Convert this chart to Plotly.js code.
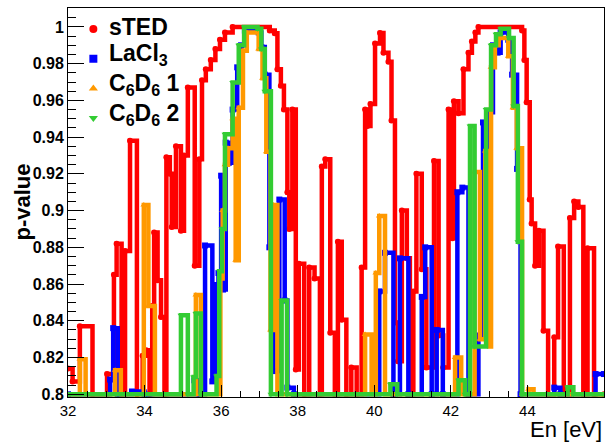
<!DOCTYPE html>
<html>
<head>
<meta charset="utf-8">
<script src="https://cdn.plot.ly/plotly-3.0.1.min.js"></script>
<style>html,body{margin:0;padding:0;background:#fff;}#chart{width:612px;height:442px;}</style>
</head>
<body>
<div id="chart"></div>
<script>
// Series names (legend labels)
var seriesNames = ['<b>sTED</b>', '<b>LaCl<sub>3</sub></b>', '<b>C<sub>6</sub>D<sub>6</sub> 1</b>', '<b>C<sub>6</sub>D<sub>6</sub> 2</b>'];

// sTED (red)
var stedE = [32.00,32.12,32.31,32.64,33.02,33.20,33.27,33.40,33.49,33.62,33.80,33.95,34.04,34.13,34.20,34.25,34.34,34.43,34.52,34.57,34.66,34.71,34.82,34.95,35.03,35.13,35.31,35.43,35.50,35.60,35.73,35.85,35.97,36.10,36.30,37.27,37.40,37.47,37.56,37.64,37.73,37.78,37.86,37.95,38.03,38.17,38.30,38.44,38.58,38.63,38.72,38.85,38.97,39.05,39.15,39.27,39.40,39.54,39.67,39.76,39.82,39.90,40.02,40.15,40.24,40.37,40.45,40.54,40.62,40.72,40.85,40.93,41.02,41.10,41.24,41.36,41.56,41.68,41.80,41.94,42.04,42.08,42.20,42.33,42.46,42.55,42.64,42.72,43.86,43.92,43.98,44.06,44.11,44.20,44.30,44.42,44.54,44.70,44.80,44.95,45.11,45.22,45.33,45.46,45.57,45.74,46.00];
var stedP = [0.814,0.807,0.837,0.800,0.811,0.865,0.882,0.800,0.878,0.938,0.800,0.821,0.824,0.800,0.848,0.888,0.862,0.842,0.800,0.929,0.920,0.891,0.935,0.889,0.930,0.967,0.870,0.928,0.971,0.977,0.982,0.988,0.993,0.997,1.000,0.998,0.9965,0.977,0.968,0.955,0.910,0.890,0.955,0.8135,0.871,0.800,0.869,0.863,0.800,0.924,0.928,0.8335,0.800,0.883,0.8405,0.800,0.8146,0.800,0.869,0.955,0.946,0.958,0.991,0.9967,0.986,0.981,0.949,0.839,0.818,0.900,0.874,0.800,0.856,0.920,0.868,0.8146,0.927,0.832,0.8146,0.955,0.885,0.9595,0.953,0.977,0.986,0.992,0.997,1.000,0.998,0.982,0.959,0.906,0.893,0.870,0.889,0.8346,0.800,0.831,0.8805,0.800,0.896,0.905,0.902,0.800,0.8795,0.800,0.800];

// LaCl3 (blue)
var laclE = [32.00,33.10,33.18,33.30,33.67,34.00,35.30,35.43,35.58,35.77,35.86,35.93,36.00,36.05,36.12,36.20,36.30,36.42,36.52,36.62,36.98,37.05,37.14,37.26,37.37,37.52,37.66,37.73,37.90,40.13,40.28,40.50,40.67,40.89,41.24,41.33,41.50,41.63,41.79,42.17,42.30,42.46,42.72,42.84,42.95,43.02,43.10,43.22,43.30,43.50,43.60,43.73,43.82,44.70,44.86,45.78,46.00];
var laclP = [0.800,0.808,0.836,0.800,0.8015,0.800,0.8076,0.800,0.881,0.807,0.8595,0.866,0.919,0.857,0.937,0.926,0.955,0.978,0.990,0.998,0.997,0.989,0.974,0.880,0.8126,0.906,0.851,0.8036,0.800,0.856,0.877,0.800,0.874,0.800,0.853,0.880,0.800,0.835,0.800,0.910,0.9125,0.800,0.832,0.948,0.892,0.9535,0.990,0.986,0.997,0.993,0.974,0.9227,0.800,0.8036,0.800,0.811,0.811];

// C6D6 1 (orange)
var c6d61E = [32.00,32.31,32.46,33.23,33.38,33.98,34.10,34.27,35.34,35.47,35.98,36.04,36.10,36.18,36.30,36.38,36.46,36.57,36.67,36.98,37.08,37.18,37.29,37.36,37.47,39.76,39.93,40.04,40.13,40.28,42.11,42.27,42.62,42.76,42.90,43.00,43.05,43.15,43.25,43.50,43.62,43.72,43.86,44.03,44.16,46.00];
var c6d61P = [0.800,0.819,0.800,0.813,0.800,0.903,0.848,0.800,0.854,0.800,0.863,0.900,0.925,0.934,0.950,0.873,0.956,0.987,0.997,0.988,0.972,0.932,0.835,0.903,0.800,0.8325,0.800,0.866,0.897,0.800,0.820,0.800,0.921,0.830,0.9325,0.826,0.978,0.990,0.994,0.984,0.956,0.934,0.800,0.8027,0.800,0.800];

// C6D6 2 (green)
var c6d62E = [32.00,34.95,35.13,35.28,35.34,35.47,35.88,35.95,36.02,36.10,36.30,36.46,36.60,36.95,37.05,37.14,37.30,37.58,37.72,40.42,40.60,42.20,42.37,42.50,42.62,42.92,43.05,43.18,43.30,43.52,43.64,43.75,43.86,45.05,45.20,46.00];
var c6d62P = [0.800,0.843,0.800,0.8094,0.844,0.800,0.810,0.867,0.890,0.9416,0.9697,0.990,1.000,0.999,0.988,0.965,0.800,0.851,0.800,0.8054,0.800,0.8076,0.800,0.946,0.826,0.955,0.990,0.996,0.999,0.994,0.957,0.883,0.800,0.8038,0.800,0.800];

var colors = ['#ff0000', '#0000ff', '#ff9900', '#33cc33'];
var symbols = ['circle', 'square', 'triangle-up', 'triangle-down'];
var xs = [stedE, laclE, c6d61E, c6d62E];
var ys = [stedP, laclP, c6d61P, c6d62P];

var FONT = 'Liberation Sans, Arial, sans-serif';
var traces = [];
// legend keys (marker only, like the ROOT legend); labels are drawn as annotations
for (var i = 0; i < 4; i++) {
  traces.push({
    x: [null], y: [null], type: 'scatter', mode: 'markers', name: ' ',
    legendgroup: 'g' + i,
    marker: {color: colors[i], symbol: symbols[i], size: 8}, showlegend: true, hoverinfo: 'skip'
  });
}
for (var j = 0; j < 4; j++) {
  traces.push({
    x: xs[j], y: ys[j], type: 'scatter', mode: 'lines+markers', name: seriesNames[j],
    line: {color: colors[j], width: 4.5, shape: 'hv'},
    marker: {color: colors[j], symbol: symbols[j], size: 6},
    showlegend: false
  });
}

// legend label annotations
var labelY = [0.9512, 0.8792, 0.8021, 0.7275];
var annotations = [];
for (var k = 0; k < 4; k++) {
  annotations.push({
    text: seriesNames[k], xref: 'paper', yref: 'paper', x: 0.0728, y: labelY[k],
    xanchor: 'left', yanchor: 'middle', showarrow: false,
    font: {family: FONT, size: 23, color: '#000'}
  });
}
annotations.push({text: '<b>p-value</b>', xref: 'paper', yref: 'paper', x: -0.0858, y: 0.5,
  xanchor: 'center', yanchor: 'middle', textangle: -90, showarrow: false,
  font: {family: FONT, size: 22, color: '#000'}});
annotations.push({text: 'En [eV]', xref: 'paper', yref: 'paper', x: 1, y: -0.0823,
  xanchor: 'right', yanchor: 'middle', showarrow: false,
  font: {family: FONT, size: 22, color: '#000'}});

var layout = {
  width: 612, height: 442,
  margin: {l: 68, r: 8, t: 8, b: 45},
  paper_bgcolor: '#ffffff', plot_bgcolor: '#ffffff',
  font: {family: FONT, color: '#000'},
  showlegend: true,
  legend: {
    x: 0.01, y: 0.9833, xanchor: 'left', yanchor: 'top',
    bgcolor: 'rgba(0,0,0,0)', borderwidth: 0,
    font: {family: FONT, size: 12, color: '#000'},
    itemwidth: 30, tracegroupgap: 10.7, traceorder: 'grouped'
  },
  xaxis: {
    range: [32, 46], tick0: 32, dtick: 2,
    ticks: 'inside', ticklen: 12, tickwidth: 1, tickcolor: '#000',
    showline: true, linecolor: '#000', linewidth: 1, mirror: true,
    showgrid: false, zeroline: false,
    tickfont: {family: FONT, size: 15, color: '#000'},
    minor: {dtick: 0.5, ticks: 'inside', ticklen: 6, tickcolor: '#000', showgrid: false}
  },
  yaxis: {
    range: [0.7985, 1.0103], tick0: 0.8, dtick: 0.02,
    ticks: 'inside', ticklen: 16, tickwidth: 1, tickcolor: '#000',
    showline: true, linecolor: '#000', linewidth: 1, mirror: true,
    showgrid: false, zeroline: false,
    tickfont: {family: FONT, size: 16, color: '#000', weight: 'bold'},
    minor: {dtick: 0.005, ticks: 'inside', ticklen: 8, tickcolor: '#000', showgrid: false}
  },
  annotations: annotations
};

Plotly.newPlot('chart', traces, layout, {displayModeBar: false, staticPlot: true});
</script>
</body>
</html>
